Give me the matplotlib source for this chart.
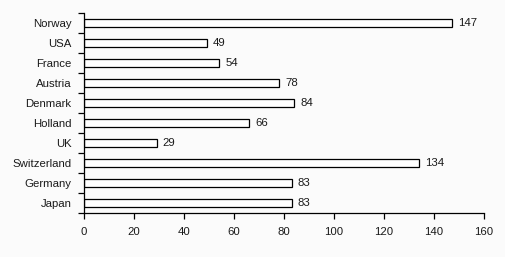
import numpy as np
import matplotlib.pyplot as plt
from matplotlib.ticker import FixedLocator, NullFormatter

countries = ['Norway', 'USA', 'France', 'Austria', 'Denmark', 'Holland',
             'UK', 'Switzerland', 'Germany', 'Japan']
values = [147, 49, 54, 78, 84, 66, 29, 134, 83, 83]

plt.rcParams['font.family'] = ['Liberation Sans', 'DejaVu Sans']

bg = '#fbfbfb'
fig = plt.figure(figsize=(5.06, 2.57), dpi=100, facecolor=bg)
ax = fig.add_axes([84 / 506, 1 - 213 / 257, 400 / 506, 200 / 257])
ax.set_facecolor(bg)

y = np.arange(len(countries))
ax.barh(y, values, height=0.42, color='white', edgecolor='black', linewidth=0.9)

# value labels right of each bar
for yi, v in zip(y, values):
    ax.annotate(str(v), (v, yi), xytext=(4.5, 0), textcoords='offset points',
                ha='left', va='center', fontsize=8.2, color='#1a1a1a')

ax.set_ylim(len(countries) - 0.5, -0.5)
ax.set_xlim(0, 160)
ax.set_xticks(np.arange(0, 161, 20))
ax.set_yticks(y)
ax.set_yticklabels(countries)
ax.yaxis.set_minor_locator(FixedLocator(np.arange(-0.5, len(countries), 1)))
ax.yaxis.set_minor_formatter(NullFormatter())

ax.tick_params(axis='y', which='major', length=0, pad=9, labelsize=8.2, labelcolor='#1a1a1a')
ax.tick_params(axis='y', which='minor', length=4, width=0.9, direction='out')
ax.tick_params(axis='x', length=4, width=0.9, direction='out', pad=6, labelsize=8.2, labelcolor='#1a1a1a')

for s in ['top', 'right']:
    ax.spines[s].set_visible(False)
for s in ['left', 'bottom']:
    ax.spines[s].set_linewidth(0.9)

plt.savefig('out.png', dpi=100, facecolor=bg)
